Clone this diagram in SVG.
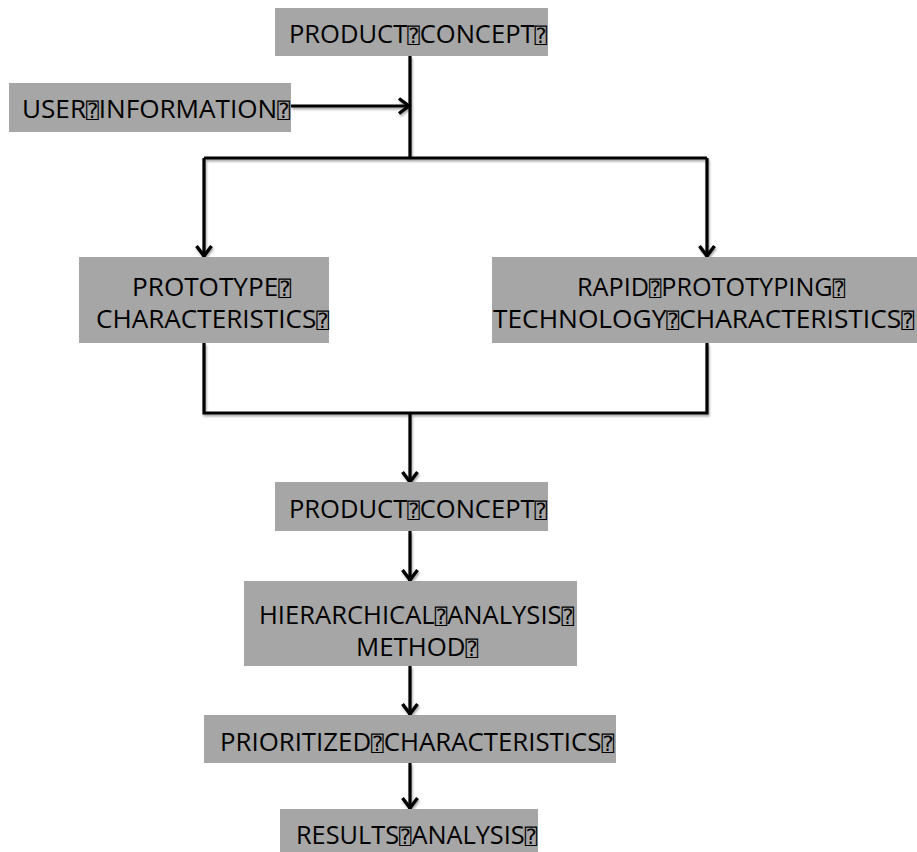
<svg xmlns="http://www.w3.org/2000/svg" width="917" height="852" viewBox="0 0 917 852">
<style>
.box{fill:#a6a6a6}
.t{font-family:"Open Sans","Liberation Sans",sans-serif;font-size:26px;fill:#000}
.q{font-family:"DejaVu Sans Mono","DejaVu Sans",monospace;font-size:21px}
.ln{fill:none;stroke:#000;stroke-width:3.2}
</style>
<defs>
<filter id="sh" x="-20%" y="-20%" width="140%" height="140%">
<feDropShadow dx="1" dy="2" stdDeviation="1" flood-color="#000" flood-opacity="0.35"/>
</filter>
<marker id="ah" viewBox="-14 -10 17 20" refX="0" refY="0" markerWidth="17" markerHeight="20" orient="auto" markerUnits="userSpaceOnUse">
<path d="M-11,-7.5 L-1,0 L-11,7.5" fill="none" stroke="#000" stroke-width="3.4" stroke-linejoin="miter"/>
</marker>
</defs>
<rect width="917" height="852" fill="#fff"/>
<g id="connectors" filter="url(#sh)">
<path class="ln" d="M410,56 V158"/>
<path class="ln" d="M291,106 H410" marker-end="url(#ah)"/>
<path class="ln" d="M204,158 H707"/>
<path class="ln" d="M204,158 V257" marker-end="url(#ah)"/>
<path class="ln" d="M707,158 V257" marker-end="url(#ah)"/>
<path class="ln" d="M204,343 V413 H707 V343"/>
<path class="ln" d="M410,413 V483" marker-end="url(#ah)"/>
<path class="ln" d="M410,531 V581" marker-end="url(#ah)"/>
<path class="ln" d="M410,666 V715" marker-end="url(#ah)"/>
<path class="ln" d="M410,763 V809" marker-end="url(#ah)"/>
</g>
<g id="n1">
<rect class="box" x="275" y="8" width="273" height="48"/>
<text class="t" x="289" y="43" textLength="258" lengthAdjust="spacingAndGlyphs">PRODUCT<tspan class="q">⍰</tspan>CONCEPT<tspan class="q">⍰</tspan></text>
</g>
<g id="n2">
<rect class="box" x="9" y="83" width="282" height="49"/>
<text class="t" x="22" y="118" textLength="268" lengthAdjust="spacingAndGlyphs">USER<tspan class="q">⍰</tspan>INFORMATION<tspan class="q">⍰</tspan></text>
</g>
<g id="n3">
<rect class="box" x="79" y="257" width="250" height="86"/>
<text class="t" x="132" y="296" textLength="159" lengthAdjust="spacingAndGlyphs">PROTOTYPE<tspan class="q">⍰</tspan></text>
<text class="t" x="96" y="328" textLength="233" lengthAdjust="spacingAndGlyphs">CHARACTERISTICS<tspan class="q">⍰</tspan></text>
</g>
<g id="n4">
<rect class="box" x="492" y="257" width="425" height="86"/>
<text class="t" x="577" y="296" textLength="268" lengthAdjust="spacingAndGlyphs">RAPID<tspan class="q">⍰</tspan>PROTOTYPING<tspan class="q">⍰</tspan></text>
<text class="t" x="493" y="328" textLength="421" lengthAdjust="spacingAndGlyphs">TECHNOLOGY<tspan class="q">⍰</tspan>CHARACTERISTICS<tspan class="q">⍰</tspan></text>
</g>
<g id="n5">
<rect class="box" x="275" y="482" width="273" height="49"/>
<text class="t" x="289" y="518" textLength="258" lengthAdjust="spacingAndGlyphs">PRODUCT<tspan class="q">⍰</tspan>CONCEPT<tspan class="q">⍰</tspan></text>
</g>
<g id="n6">
<rect class="box" x="244" y="581" width="333" height="85"/>
<text class="t" x="259" y="624" textLength="315" lengthAdjust="spacingAndGlyphs">HIERARCHICAL<tspan class="q">⍰</tspan>ANALYSIS<tspan class="q">⍰</tspan></text>
<text class="t" x="356" y="656" textLength="122" lengthAdjust="spacingAndGlyphs">METHOD<tspan class="q">⍰</tspan></text>
</g>
<g id="n7">
<rect class="box" x="204" y="715" width="412" height="48"/>
<text class="t" x="220" y="751" textLength="394" lengthAdjust="spacingAndGlyphs">PRIORITIZED<tspan class="q">⍰</tspan>CHARACTERISTICS<tspan class="q">⍰</tspan></text>
</g>
<g id="n8">
<rect class="box" x="280" y="809" width="258" height="43"/>
<text class="t" x="296" y="844" textLength="241" lengthAdjust="spacingAndGlyphs">RESULTS<tspan class="q">⍰</tspan>ANALYSIS<tspan class="q">⍰</tspan></text>
</g>
</svg>
